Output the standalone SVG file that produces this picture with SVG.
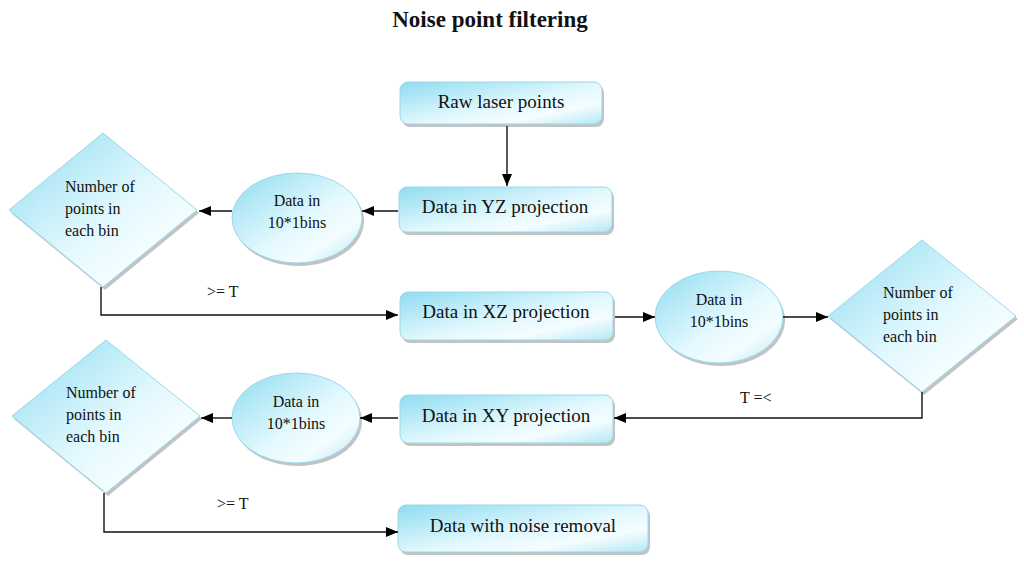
<svg xmlns="http://www.w3.org/2000/svg" width="1024" height="567" viewBox="0 0 1024 567">
<defs>
<linearGradient id="g" x1="0" y1="0" x2="1" y2="1">
<stop offset="0" stop-color="#8fdcf0"/>
<stop offset="0.55" stop-color="#e4f9fe"/>
<stop offset="0.75" stop-color="#f4fdff"/>
<stop offset="1" stop-color="#b4e7f4"/>
</linearGradient>
<marker id="ah" viewBox="0 0 12 10" refX="12" refY="5" markerWidth="12" markerHeight="10" markerUnits="userSpaceOnUse" orient="auto">
<path d="M0,0 L12,5 L0,10 Z" fill="#000"/>
</marker>
</defs>
<style>
.s{fill:url(#g);stroke:#9bd8ea;stroke-width:1}
.sh{fill:#a9a9a9;opacity:0.7}
text{font-family:'Liberation Serif','DejaVu Serif',serif;font-weight:400;font-style:normal}
.bt{font-size:19px;fill:#111;text-anchor:middle}
.st{font-size:16px;fill:#111}
.ct{text-anchor:middle}
.c{fill:none;stroke:#111;stroke-width:1.4;marker-end:url(#ah)}
</style>
<rect width="1024" height="567" fill="#fff"/>
<text x="490" y="27" font-size="23" style="font-weight:700" text-anchor="middle" fill="#111">Noise point filtering</text>

<g id="raw">
<rect class="sh" x="402" y="85" width="202" height="42" rx="8"/>
<rect class="s" x="400" y="82" width="202" height="42" rx="8"/>
<text class="bt" x="501" y="108">Raw laser points</text>
</g>
<g id="yz">
<rect class="sh" x="401" y="190" width="213" height="45" rx="8"/>
<rect class="s" x="399" y="187" width="213" height="45" rx="8"/>
<text class="bt" x="505" y="213">Data in YZ projection</text>
</g>
<g id="e1">
<ellipse class="sh" cx="299" cy="221" rx="65" ry="45"/>
<ellipse class="s" cx="297" cy="218" rx="65" ry="45"/>
<text class="st ct" x="297" y="206">Data in</text>
<text class="st ct" x="297" y="228">10*1bins</text>
</g>
<g id="d1">
<polygon class="sh" points="105,136 199,213 105,290 11,213"/>
<polygon class="s" points="103,133 197,210 103,287 9,210"/>
<text class="st" x="65" y="192">Number of</text>
<text class="st" x="65" y="214">points in</text>
<text class="st" x="65" y="236">each bin</text>
</g>
<g id="xz">
<rect class="sh" x="402" y="295" width="213" height="48" rx="8"/>
<rect class="s" x="400" y="292" width="213" height="48" rx="8"/>
<text class="bt" x="506" y="318">Data in XZ projection</text>
</g>
<g id="e2">
<ellipse class="sh" cx="721" cy="320" rx="64" ry="46"/>
<ellipse class="s" cx="719" cy="317" rx="64" ry="46"/>
<text class="st ct" x="719" y="305">Data in</text>
<text class="st ct" x="719" y="327">10*1bins</text>
</g>
<g id="d2">
<polygon class="sh" points="924,243 1018,319 924,395 830,319"/>
<polygon class="s" points="922,240 1016,316 922,392 828,316"/>
<text class="st" x="883" y="298">Number of</text>
<text class="st" x="883" y="320">points in</text>
<text class="st" x="883" y="342">each bin</text>
</g>
<g id="xy">
<rect class="sh" x="402" y="398" width="213" height="48" rx="8"/>
<rect class="s" x="400" y="395" width="213" height="48" rx="8"/>
<text class="bt" x="506" y="422">Data in XY projection</text>
</g>
<g id="e3">
<ellipse class="sh" cx="298" cy="421" rx="64" ry="45"/>
<ellipse class="s" cx="296" cy="418" rx="64" ry="45"/>
<text class="st ct" x="296" y="407">Data in</text>
<text class="st ct" x="296" y="429">10*1bins</text>
</g>
<g id="d3">
<polygon class="sh" points="108,343 202,419 108,496 14,419"/>
<polygon class="s" points="106,340 200,416 106,493 12,416"/>
<text class="st" x="66" y="398">Number of</text>
<text class="st" x="66" y="420">points in</text>
<text class="st" x="66" y="442">each bin</text>
</g>
<g id="noise">
<rect class="sh" x="400" y="508" width="250" height="47" rx="8"/>
<rect class="s" x="398" y="505" width="250" height="47" rx="8"/>
<text class="bt" x="523" y="532">Data with noise removal</text>
</g>

<g id="connectors">
<path class="c" d="M507,126 L507,186"/>
<path class="c" d="M398,211 L362,211"/>
<path class="c" d="M232,211 L199,211"/>
<path class="c" d="M101,287 L101,315 L398,315"/>
<path class="c" d="M615,317 L655,317"/>
<path class="c" d="M783,317 L828,317"/>
<path class="c" d="M922,392 L922,418 L614,418"/>
<path class="c" d="M398,418 L360,418"/>
<path class="c" d="M232,418 L201,418"/>
<path class="c" d="M104,493 L104,532 L398,532"/>
<text class="st" x="207" y="297">&gt;= T</text>
<text class="st" x="740" y="403">T =&lt;</text>
<text class="st" x="217" y="509">&gt;= T</text>
</g>
</svg>
